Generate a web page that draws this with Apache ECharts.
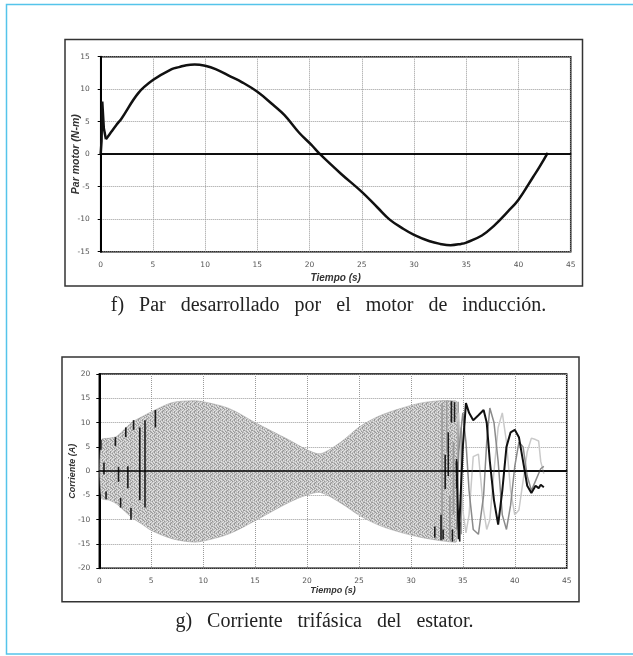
<!DOCTYPE html>
<html>
<head>
<meta charset="utf-8">
<script src="https://cdn.jsdelivr.net/npm/echarts@6/dist/echarts.min.js"></script>
<style>
  html, body { margin: 0; padding: 0; background: #fff; }
  #main { width: 633px; height: 656px; }
  .cap { position: absolute; left: 0; width: 633px; text-align: center; font-family: 'Liberation Serif', serif;
         font-size: 20px; word-spacing: 10px; color: #222; line-height: 24px; }
</style>
</head>
<body>
<div id="main"></div>
<div class="cap" style="top:292px; left:12px;">f) Par desarrollado por el motor de inducción.</div>
<div class="cap" style="top:608px; left:8px;">g) Corriente trifásica del estator.</div>
<script>
// f) par motor (N-m) vs tiempo (s)
var spikeT = [0, 0.08, 0.15, 0.3, 0.5];
var spikeV = [0, 2.0, 8.1, 4.0, 2.3];
var torqueT = [0.5, 1.0, 1.5, 2.0, 3.6, 5.0, 6.8, 7.5, 8.2, 9.0, 10.0, 11.0, 12.5, 13.5, 15.0, 16.5, 17.6, 19.0, 20.2, 21.0, 23.0, 25.0, 26.5, 27.7, 29.0, 30.0, 31.5, 32.5, 33.5, 34.5, 35.0, 36.5, 37.6, 39.0, 40.0, 41.4, 42.0, 42.8];
var torqueV = [2.3, 3.4, 4.5, 5.5, 9.4, 11.4, 13.1, 13.4, 13.7, 13.8, 13.6, 13.1, 11.9, 11.1, 9.6, 7.6, 6.0, 3.3, 1.4, 0, -3.0, -5.8, -8.2, -10.1, -11.5, -12.4, -13.4, -13.8, -14.0, -13.8, -13.6, -12.5, -11.1, -8.8, -7.0, -3.5, -2.0, 0.2];

// g) corriente del estator: envolvente de la zona densa
var envT  = [0.2, 1.0, 1.7, 3.1, 4.1, 5.0, 7.0, 9.0, 10.0, 12.5, 15.0, 18.2, 20.0, 21.3, 23.2, 25.1, 27.0, 29.0, 30.9, 32.8, 34.0, 34.4];
var envHi = [6.4, 6.8, 7.2, 10.0, 11.2, 12.2, 14.1, 14.5, 14.3, 12.9, 10.0, 6.5, 4.4, 3.6, 5.9, 9.2, 11.4, 12.9, 14.0, 14.5, 14.5, 14.3];
var envLo = [-5.5, -6.0, -6.8, -9.5, -10.9, -12.2, -13.9, -14.6, -14.4, -12.9, -10.2, -6.5, -4.9, -4.4, -6.5, -9.2, -11.2, -12.6, -13.6, -14.3, -14.6, -14.5];

// trazos verticales dentro de la zona densa (oscuros y grises)
var strokeT  = [0.15, 0.45, 0.65, 1.55, 1.85, 2.05, 2.55, 2.75, 3.05, 3.3, 3.9, 4.4, 5.4, 32.3, 32.9, 33.1, 33.3, 33.6, 33.9, 34.0, 34.2, 34.4, 34.7];
var strokeLo = [4.4, -0.7, -5.8, 5.2, -2.2, -7.5, 7.0, -3.5, -10.0, 8.5, -6.0, -7.5, 9.0, -13.7, -14.2, -14.0, -3.7, -1.0, 10.0, -14.5, 10.1, -3.5, -14.5];
var strokeHi = [6.4, 1.8, -4.2, 7.0, 0.9, -5.5, 9.0, 1.0, -7.6, 10.5, 9.0, 10.5, 12.6, -11.4, -9.0, -12.0, 3.4, 8.0, 14.4, -12.0, 14.2, 2.5, -10.5];
var grayT  = [33.0, 33.45, 33.75, 34.1, 34.55, 34.85];
var grayLo = [-12.0, 4.0, -14.0, -9.0, 2.0, -13.0];
var grayHi = [14.0, 14.5, -5.0, 6.0, 14.3, 9.0];

// fases al final del transitorio
var phaseT = [34.4, 34.6, 35.0, 35.3, 35.6, 36.0, 36.5, 37.0, 37.3, 37.6, 38.0, 38.4, 38.8, 39.2, 39.6, 40.0, 40.4, 40.8, 41.2, 41.6, 42.0, 42.3, 42.5, 42.8];
var phaseA = [2.0, -14.0, 5.0, 14.0, 12.0, 10.5, 11.5, 12.6, 10.0, 2.0, -6.0, -11.0, -4.0, 5.0, 8.0, 8.5, 7.0, 2.0, -3.0, -4.5, -3.0, -3.5, -2.8, -3.3];
var phaseB = [10.0, 12.0, -8.0, -12.7, -9.0, 3.0, 3.5, -8.0, -12.0, -10.0, 0.0, 9.0, 12.0, 6.0, -4.0, -9.0, -8.0, -2.0, 4.0, 6.8, 6.5, 6.2, 2.0, -0.5];
var phaseC = [-12.0, 4.0, 12.0, 6.0, -4.0, -12.0, -13.0, -5.0, 6.0, 13.0, 10.0, 2.0, -9.0, -12.0, -7.0, 1.0, 6.0, 5.0, -1.0, -4.0, -2.0, -0.5, 0.5, 1.0];

function pairs(xs, ys) {
    return xs.map(function (x, i) { return [x, ys[i]] })
}

// textura moteada gris fija (mapa a mano, sin azar)
function speckle() {
    var map = [
        'ACBAACAB',
        'BAACBAAC',
        'ACABAACA',
        'CABAACBA',
        'AABCAABC',
        'BCAAACAA',
        'AACBBAAC',
        'CBAACABA'
    ]
    var col = { A: '#c0c0c0', B: '#979797', C: '#e4e4e4' }
    var c = document.createElement('canvas')
    c.width = 8
    c.height = 8
    var ctx = c.getContext('2d')
    for (var y = 0; y < 8; y++) {
        for (var x = 0; x < 8; x++) {
            ctx.fillStyle = col[map[y][x]]
            ctx.fillRect(x, y, 1, 1)
        }
    }
    return c
}
var pattern = { image: speckle(), repeat: 'repeat' }

var labelStyle = { fontSize: 7.5, color: '#555', fontFamily: 'DejaVu Sans' }
var splitStyle = { show: true, lineStyle: { color: '#9a9a9a', width: 1, type: [1, 1] } }

function nameStyle(size) {
    return { fontSize: size, color: '#333', fontStyle: 'italic', fontWeight: 'bold', fontFamily: 'Liberation Sans' }
}
function xAxis(grid, gap, size) {
    return {
        type: 'value', gridIndex: grid, min: 0, max: 45, interval: 5,
        name: 'Tiempo (s)', nameLocation: 'middle', nameGap: gap, nameTextStyle: nameStyle(size),
        nameMoveOverlap: false,
        axisLine: { show: true, lineStyle: { color: '#000', width: 1.5 } },
        axisTick: { show: false },
        axisLabel: Object.assign({ margin: 9 }, labelStyle),
        splitLine: splitStyle
    }
}
function yAxis(grid, min, max, name, gap, size, margin) {
    return {
        type: 'value', gridIndex: grid, min: min, max: max, interval: 5,
        name: name, nameLocation: 'middle', nameGap: gap, nameTextStyle: nameStyle(size),
        nameMoveOverlap: false,
        axisLine: { show: true, lineStyle: { color: '#000', width: 2 } },
        axisTick: { show: true, length: 3, lineStyle: { color: '#000' } },
        axisLabel: Object.assign({ margin: margin }, labelStyle),
        splitLine: splitStyle
    }
}

var zeroLine = {
    silent: true, symbol: 'none', label: { show: false },
    lineStyle: { color: '#000', width: 1.5, type: 'solid' },
    data: [{ yAxis: 0 }]
}

function strokes(ts, los, his, color, width, z) {
    return {
        type: 'custom', xAxisIndex: 1, yAxisIndex: 1,
        data: ts.map(function (t, i) { return [t, los[i], his[i]] }),
        renderItem: function (params, api) {
            var a = api.coord([api.value(0), api.value(1)])
            var b = api.coord([api.value(0), api.value(2)])
            return { type: 'line', shape: { x1: a[0], y1: a[1], x2: b[0], y2: b[1] }, style: { stroke: color, lineWidth: width } }
        },
        z: z
    }
}

var chart = echarts.init(document.getElementById('main'))
chart.setOption({
    animation: false,
    grid: [
        { left: 100.7, top: 56.7, width: 470, height: 195, show: true, borderColor: '#000', borderWidth: 1.5 },
        { left: 99.3, top: 374, width: 467.4, height: 194.3, show: true, borderColor: '#000', borderWidth: 1.5 }
    ],
    xAxis: [xAxis(0, 22, 10), xAxis(1, 18, 9)],
    yAxis: [
        yAxis(0, -15, 15, 'Par motor (N-m)', 19, 10.5, 11),
        yAxis(1, -20, 20, 'Corriente (A)', 22, 9, 9)
    ],
    series: [
        {
            type: 'line', xAxisIndex: 0, yAxisIndex: 0,
            data: pairs(spikeT, spikeV),
            showSymbol: false, lineStyle: { color: '#111', width: 2.5 }, z: 3
        },
        {
            type: 'line', xAxisIndex: 0, yAxisIndex: 0,
            data: pairs(torqueT, torqueV), smooth: 0.4,
            showSymbol: false, lineStyle: { color: '#111', width: 2.5 },
            markLine: zeroLine, z: 3
        },
        {
            type: 'custom', xAxisIndex: 1, yAxisIndex: 1,
            data: pairs(envT, envHi),
            renderItem: function (params, api) {
                if (params.context.rendered) {
                    return
                }
                params.context.rendered = true
                var pts = []
                for (var i = 0; i < envT.length; i++) pts.push(api.coord([envT[i], envHi[i]]))
                for (var j = envT.length - 1; j >= 0; j--) pts.push(api.coord([envT[j], envLo[j]]))
                return { type: 'polygon', shape: { points: pts, smooth: 0.3 }, style: { fill: pattern, stroke: '#999', lineWidth: 0.5 } }
            },
            z: 2
        },
        strokes(grayT, grayLo, grayHi, '#9a9a9a', 1.6, 3),
        strokes(strokeT, strokeLo, strokeHi, '#1a1a1a', 1.6, 3),
        {
            type: 'line', xAxisIndex: 1, yAxisIndex: 1, data: pairs(phaseT, phaseB),
            showSymbol: false, lineStyle: { color: '#c9c9c9', width: 1.5 }, z: 3
        },
        {
            type: 'line', xAxisIndex: 1, yAxisIndex: 1, data: pairs(phaseT, phaseC),
            showSymbol: false, lineStyle: { color: '#8a8a8a', width: 1.5 }, z: 3
        },
        {
            type: 'line', xAxisIndex: 1, yAxisIndex: 1, data: pairs(phaseT, phaseA),
            showSymbol: false, lineStyle: { color: '#111', width: 2 },
            markLine: zeroLine, z: 4
        }
    ],
    graphic: [
        { type: 'rect', silent: true, shape: { x: 65, y: 39.5, width: 517.5, height: 246.5 }, style: { fill: 'none', stroke: '#333', lineWidth: 1.5 } },
        { type: 'rect', silent: true, shape: { x: 62, y: 357, width: 517, height: 244.7 }, style: { fill: 'none', stroke: '#333', lineWidth: 1.5 } },
        { type: 'polyline', silent: true, shape: { points: [[640, 4.5], [6.5, 4.5], [6.5, 654], [640, 654]] }, style: { fill: 'none', stroke: '#55c4ea', lineWidth: 1.5 } }
    ]
})
</script>
</body>
</html>
